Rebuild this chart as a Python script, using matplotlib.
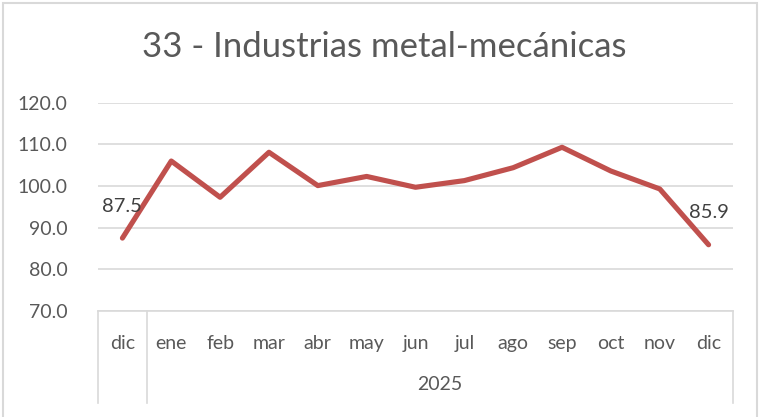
import matplotlib
matplotlib.use('Agg')
import matplotlib.pyplot as plt
import matplotlib.patches as patches

# Datos
meses = ['dic', 'ene', 'feb', 'mar', 'abr', 'may', 'jun', 'jul', 'ago', 'sep', 'oct', 'nov', 'dic']
valores = [87.5, 106.0, 97.3, 108.1, 100.1, 102.3, 99.7, 101.3, 104.4, 109.3, 103.6, 99.3, 85.9]
anio = '2025'
titulo = '33 - Industrias metal-mecánicas'
yticks = [70, 80, 90, 100, 110, 120]

plt.rcParams['font.family'] = ['Lato', 'DejaVu Sans']
gris_txt = '#595959'
gris_lin = '#d9d9d9'

fig = plt.figure(figsize=(7.62, 4.17), dpi=100)
ax = fig.add_axes([98 / 762, 1 - 311 / 417, (733 - 98) / 762, (311 - 102.7) / 417])

x = list(range(len(meses)))
ax.plot(x, valores, color='#c0504d', linewidth=3.7, solid_joinstyle='round', solid_capstyle='round', zorder=3)

# etiquetas de datos en el primer y último punto
for i in [0, len(valores) - 1]:
    ax.annotate(f'{valores[i]:.1f}', (x[i], valores[i]), xytext=(0, 32), textcoords='offset pixels',
                ha='center', va='center', fontsize=14.5, color='#404040', zorder=4)

ax.set_xlim(-0.5, len(meses) - 0.5)
ax.set_ylim(70, 120)
ax.set_yticks(yticks)
ax.set_yticklabels([f'{v:.1f}' for v in yticks], fontsize=14, color=gris_txt)
ax.tick_params(axis='y', length=0, pad=22)
ax.set_xticks([])
ax.grid(axis='y', color=gris_lin, linewidth=1.2)
ax.set_axisbelow(True)
for s in ['top', 'right', 'left']:
    ax.spines[s].set_visible(False)
ax.spines['bottom'].set_color(gris_lin)
ax.spines['bottom'].set_linewidth(1.2)

# eje de categorías en dos niveles
tr = ax.get_xaxis_transform()
fondo = -0.44
for xv in [-0.5, 0.5, len(meses) - 0.5]:
    ax.plot([xv, xv], [0, fondo], transform=tr, color=gris_lin, linewidth=1.2, clip_on=False)
for xi, m in zip(x, meses):
    ax.text(xi, -0.154, m, transform=tr, ha='center', va='center', fontsize=14, color=gris_txt)
ax.text((1 + len(meses) - 1) / 2, -0.355, anio, transform=tr, ha='center', va='center',
        fontsize=14, color=gris_txt)

fig.text(384 / 762, 1 - 47 / 417, titulo, ha='center', va='center', fontsize=25, color=gris_txt)

# borde del gráfico
fig.patches.append(patches.Rectangle((3 / 762, -0.05), 754 / 762, 1.05 - 3 / 417, transform=fig.transFigure,
                                     fill=False, edgecolor=gris_lin, linewidth=1.5))

fig.savefig('out.png', dpi=100)
